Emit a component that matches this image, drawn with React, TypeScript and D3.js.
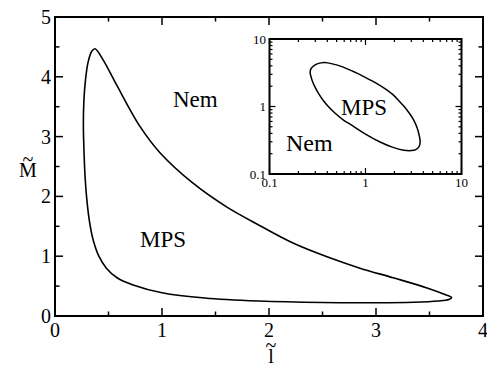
import { useEffect, useRef } from "react";
import * as d3 from "d3";

// phase boundary, going round the closed curve
// (upper branch from the peak to the tip, then lower branch back up the left side)
const lVals = [0.374, 0.451, 0.577, 0.794, 0.981, 1.29, 1.607, 1.916, 2.224, 2.542, 2.85, 3.159, 3.477, 3.645, 3.707, 3.68, 3.58, 3.35, 3.0, 2.5, 1.9, 1.4, 1.0, 0.73, 0.58, 0.48, 0.41, 0.36, 0.325, 0.3, 0.282, 0.272, 0.265, 0.27, 0.285, 0.31, 0.345];
const mVals = [4.47, 4.28, 3.86, 3.17, 2.73, 2.22, 1.82, 1.51, 1.22, 0.99, 0.8, 0.64, 0.47, 0.36, 0.31, 0.275, 0.25, 0.23, 0.222, 0.225, 0.25, 0.3, 0.39, 0.52, 0.64, 0.8, 1.0, 1.25, 1.55, 1.9, 2.3, 2.7, 3.2, 3.6, 3.95, 4.25, 4.43];

const xTicks = [0, 1, 2, 3, 4];
const yTicks = [0, 1, 2, 3, 4, 5];
const logTicks = [0.1, 1, 10];
const logTickLabels = ["0.1", "1", "10"];

const W = 487;
const H = 368;
const FONT = "'Liberation Serif', 'Times New Roman', Times, serif";

export default function App() {
  const svgRef = useRef<SVGSVGElement>(null);

  useEffect(() => {
    const svg = d3.select(svgRef.current);
    svg.selectAll("*").remove();

    const pts = lVals.map((l, i) => [l, mVals[i]] as [number, number]);

    const txt = (g: any, x: number, y: number, size: number, s: string, anchor = "start") =>
      g.append("text")
        .attr("x", x).attr("y", y)
        .attr("text-anchor", anchor)
        .style("font-family", FONT)
        .style("font-size", size + "px")
        .text(s);

    // ticks on all four sides, pointing in
    const tk = (g: any, xs: number[], ys: number[], xx: any, yy: any, len: number) => {
      const [b, t] = yy.range();
      const [l, r] = xx.range();
      xs.forEach((v) => {
        g.append("line").attr("x1", xx(v)).attr("x2", xx(v)).attr("y1", b).attr("y2", b - len);
        g.append("line").attr("x1", xx(v)).attr("x2", xx(v)).attr("y1", t).attr("y2", t + len);
      });
      ys.forEach((v) => {
        g.append("line").attr("y1", yy(v)).attr("y2", yy(v)).attr("x1", l).attr("x2", l + len);
        g.append("line").attr("y1", yy(v)).attr("y2", yy(v)).attr("x1", r).attr("x2", r - len);
      });
    };

    // main plot
    const x = d3.scaleLinear().domain([0, 4]).range([55, 483]);
    const y = d3.scaleLinear().domain([0, 5]).range([316, 17]);
    const main = svg.append("g");

    const mt = main.append("g").attr("stroke", "#000").attr("stroke-width", 1.5);
    tk(mt, xTicks, yTicks, x, y, 8);
    tk(mt, d3.range(0.5, 4, 1), d3.range(0.5, 5, 1), x, y, 4.5);

    main.append("rect")
      .attr("x", 55).attr("y", 17).attr("width", 428).attr("height", 299)
      .attr("fill", "none").attr("stroke", "#000").attr("stroke-width", 2);

    xTicks.forEach((d) => txt(main, x(d), 337, 20, String(d), "middle"));
    yTicks.forEach((d) => txt(main, 51, y(d) + 7, 20, String(d), "end"));

    const line = d3.line().curve(d3.curveCatmullRomClosed.alpha(0.5));
    main.append("path")
      .attr("d", line(pts.map(([a, b]) => [x(a), y(b)]) as [number, number][]))
      .attr("fill", "none").attr("stroke", "#000").attr("stroke-width", 1.6);

    txt(main, 173, 107, 23, "Nem");
    txt(main, 140, 247, 23, "MPS");

    // axis titles
    txt(main, 28, 177, 20, "M", "middle");
    txt(main, 28, 166, 20, "~", "middle");
    txt(main, 271, 363, 20, "l", "middle");
    txt(main, 271, 352, 20, "~", "middle");

    // inset, log-log
    const ix = d3.scaleLog().domain([0.1, 10]).range([269.5, 461.5]);
    const iy = d3.scaleLog().domain([0.1, 10]).range([174, 39]);
    const inset = svg.append("g");
    inset.append("rect")
      .attr("x", 269.5).attr("y", 39).attr("width", 192).attr("height", 135)
      .attr("fill", "#fff");

    const minorLog: number[] = [];
    [0.1, 1].forEach((dec) => d3.range(2, 10).forEach((k) => minorLog.push(dec * k)));
    const it = inset.append("g").attr("stroke", "#000").attr("stroke-width", 1.2);
    tk(it, logTicks, logTicks, ix, iy, 6);
    tk(it, minorLog, minorLog, ix, iy, 3);

    inset.append("rect")
      .attr("x", 269.5).attr("y", 39).attr("width", 192).attr("height", 135)
      .attr("fill", "none").attr("stroke", "#000").attr("stroke-width", 2);

    logTicks.forEach((d, i) => txt(inset, ix(d), 187, 13, logTickLabels[i], "middle"));
    logTicks.forEach((d, i) => txt(inset, 266, iy(d) + 4.5, 13, logTickLabels[i], "end"));

    inset.append("path")
      .attr("d", line(pts.map(([a, b]) => [ix(a), iy(b)]) as [number, number][]))
      .attr("fill", "none").attr("stroke", "#000").attr("stroke-width", 1.5);

    txt(inset, 341, 115, 23, "MPS");
    txt(inset, 286, 151, 24, "Nem");
  }, []);

  return (
    <svg
      ref={svgRef}
      width={W}
      height={H}
      style={{ position: "absolute", left: 0, top: 0, background: "#fff" }}
    />
  );
}
